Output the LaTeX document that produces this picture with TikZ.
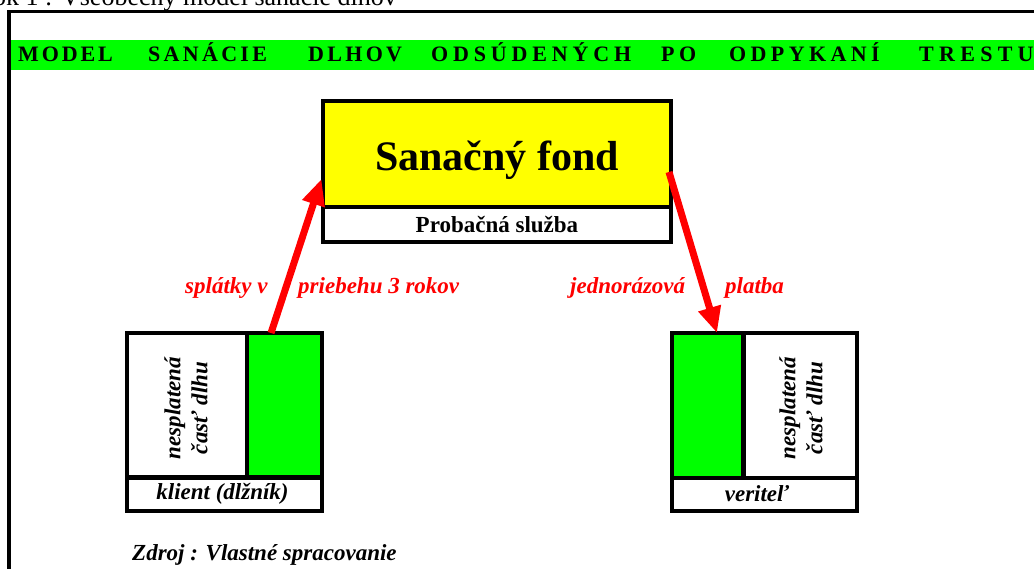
\documentclass[tikz,border=0pt]{standalone}
\usepackage{fontspec}
\setmainfont{Liberation Serif}
\usetikzlibrary{arrows.meta}
\definecolor{vgreen}{RGB}{0,255,0}
\definecolor{vyellow}{RGB}{255,255,0}
\definecolor{vred}{RGB}{255,0,0}
\newcommand\lsp[2]{{\addfontfeature{LetterSpace=#1}#2}}
\begin{document}
\begin{tikzpicture}[x=1pt,y=-1pt,
  cell/.style={draw=black, line width=4.3pt, inner sep=0pt, outer sep=0pt, anchor=north west},
  lbl/.style={inner sep=0pt, font=\fontsize{23}{27}\selectfont\bfseries\itshape},
  redlbl/.style={lbl, text=vred, anchor=base west},
  ttl/.style={inner sep=0pt, anchor=base west, font=\fontsize{22}{24}\selectfont\bfseries},
  vtext/.style={lbl, rotate=90, align=center},
  arr/.style={draw=vred, line width=7pt, -{Triangle[length=26pt,width=22pt]}}]
\useasboundingbox (0,0) rectangle (1034,569);
% caption (cropped at the top)
\node[anchor=base east, inner sep=0pt, font=\fontsize{26}{28}\selectfont] (cap) at (397,6) {Obrázok 1 : Všeobecný model sanácie dlhov};
% outer frame
\coordinate (fbl) at (9,600);
\coordinate (ftl) at (9,11.7);
\coordinate (ftr) at (1060,11.7);
\draw[line width=3.6pt] (fbl) -- (ftl) -- (ftr);
% title bar
\node[fill=vgreen, inner sep=0pt, outer sep=0pt, minimum width=1040, minimum height=30, anchor=north west] (bar) at (11,39.7) {};
\node[ttl] (t1) at (18,62) {\lsp{13}{MODEL}};
\node[ttl] (t2) at (148,62) {\lsp{15}{SANÁCIE}};
\node[ttl] (t3) at (308,62) {\lsp{15}{DLHOV}};
\node[ttl] (t4) at (431,62) {\lsp{22}{ODSÚDENÝCH}};
\node[ttl] (t5) at (661,62) {\lsp{20}{PO}};
\node[ttl] (t6) at (729,62) {\lsp{20}{ODPYKANÍ}};
\node[ttl] (t7) at (919,62) {\lsp{24}{TRESTU}};
% fund
\node[cell, fill=vyellow, minimum width=348, minimum height=106] (fond) at (323,101) {};
\node[anchor=base, inner sep=0pt, font=\fontsize{42}{46}\selectfont\bfseries] (fondtxt) at (497,171) {Sanačný fond};
\node[cell, fill=white, minimum width=348, minimum height=35, font=\fontsize{23}{27}\selectfont\bfseries] (prob) at (323,207) {Probačná služba};
% client
\node[cell, fill=white, minimum width=119.7, minimum height=144.5] (cl1) at (127,333) {};
\node[cell, fill=vgreen, minimum width=75.3, minimum height=144.5] (cl2) at (246.7,333) {};
\node[cell, fill=white, minimum width=195, minimum height=33.5] (cl3) at (127,477.5) {};
\node[lbl] (cl3txt) at (222.5,494) {klient (dlžník)};
\node[vtext] (cltxt) at (186,408) {nesplatená\\časť dlhu};
% creditor
\node[cell, fill=vgreen, minimum width=71.8, minimum height=145] (cr1) at (671.7,333) {};
\node[cell, fill=white, minimum width=113.5, minimum height=145] (cr2) at (743.5,333) {};
\node[cell, fill=white, minimum width=185.3, minimum height=33] (cr3) at (671.7,478) {};
\node[lbl] (cr3txt) at (757,494) {veriteľ};
\node[vtext] (crtxt) at (801,408) {nesplatená\\časť dlhu};
% arrows
\coordinate (a1s) at (271,333);
\coordinate (a1e) at (321.5,179);
\coordinate (a2s) at (669,172);
\coordinate (a2e) at (717,333);
\draw[arr] (a1s) -- (a1e);
\draw[arr] (a2s) -- (a2e);
% arrow labels
\node[redlbl] (l1) at (185,294) {splátky v};
\node[redlbl] (l2) at (298,294) {priebehu 3 rokov};
\node[redlbl] (l3) at (570,294) {jednorázová};
\node[redlbl] (l4) at (725,294) {platba};
% source
\node[lbl, anchor=base west] (src) at (132,560) {Zdroj : Vlastné spracovanie};
\end{tikzpicture}
\end{document}
